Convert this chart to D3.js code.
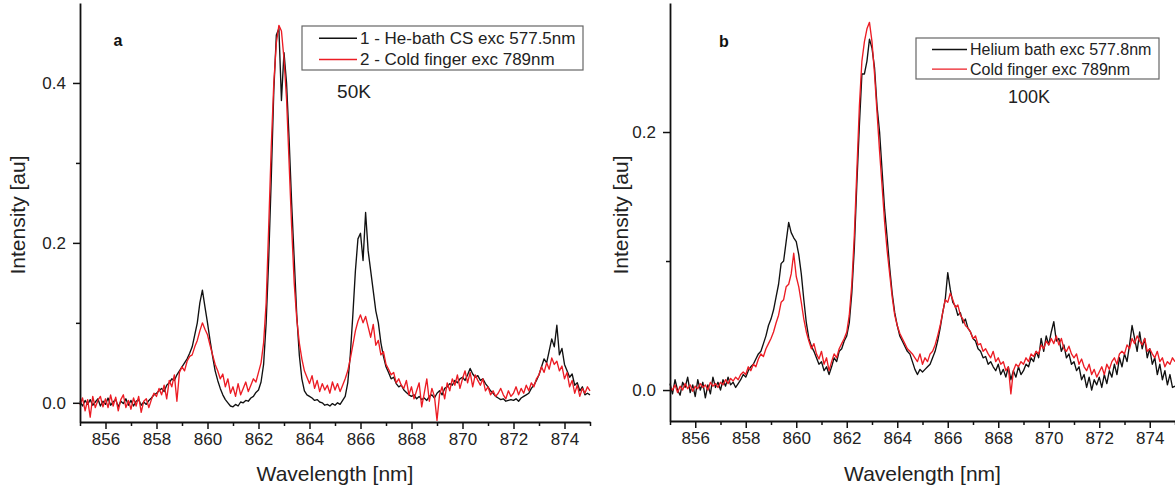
<!DOCTYPE html>
<html>
<head>
<meta charset="utf-8">
<script src="https://cdn.jsdelivr.net/npm/d3@7"></script>
<style>
  html, body { margin: 0; padding: 0; background: #fff; }
  svg { display: block; font-family: "Liberation Sans", Arial, sans-serif; }
</style>
</head>
<body>
<svg id="chart" width="1175" height="491"></svg>
<script>
// ── Data ───────────────────────────────────────────────────────────────────
// Spectra sampled every 0.1 nm from 855.0 to 875.0 nm (201 points each).
const wlStart = 855, wlStep = 0.1;

// Panel a, 50K
const aHeBath = [
  0.002,-0.004,0.003,-0.002,0.004,-0.003,0.001,0.005,-0.004,0.002,
  -0.002,0.006,-0.003,0.001,0.004,-0.005,0.002,-0.001,0.005,-0.003,
  0.003,-0.004,0.002,0.004,-0.003,0.001,-0.002,0.003,0.006,0.010,
  0.012,0.015,0.018,0.014,0.022,0.025,0.030,0.028,0.035,0.040,
  0.045,0.050,0.055,0.062,0.070,0.085,0.100,0.125,0.141,0.120,
  0.100,0.078,0.058,0.040,0.028,0.018,0.010,0.004,0.000,-0.004,
  -0.005,-0.002,-0.004,0.001,0.000,0.003,0.002,0.006,0.008,0.013,
  0.016,0.026,0.048,0.100,0.180,0.280,0.390,0.460,0.468,0.378,
  0.438,0.400,0.330,0.250,0.180,0.110,0.060,0.030,0.015,0.010,
  0.008,0.006,0.003,0.004,0.001,0.000,-0.003,-0.002,-0.004,-0.001,
  -0.003,0.000,-0.002,0.003,0.008,0.025,0.060,0.110,0.165,0.205,
  0.212,0.178,0.238,0.190,0.165,0.140,0.115,0.100,0.075,0.058,
  0.045,0.038,0.030,0.032,0.024,0.020,0.022,0.016,0.013,0.010,
  0.008,0.010,0.005,0.008,0.004,0.006,0.003,0.008,0.010,0.006,
  0.012,0.015,0.010,0.018,0.020,0.024,0.022,0.028,0.025,0.030,
  0.032,0.028,0.035,0.043,0.036,0.032,0.034,0.028,0.030,0.024,
  0.020,0.015,0.012,0.008,0.006,0.004,0.005,0.002,0.003,0.004,
  0.003,0.005,0.002,0.006,0.008,0.010,0.012,0.018,0.022,0.028,
  0.035,0.045,0.055,0.050,0.065,0.080,0.070,0.097,0.060,0.068,
  0.048,0.040,0.032,0.036,0.022,0.025,0.015,0.020,0.010,0.012,
  0.010
];
const aColdFinger = [
  -0.003,0.006,-0.010,0.004,-0.018,0.008,-0.006,0.003,0.008,-0.005,
  0.005,-0.006,0.010,-0.004,0.007,-0.010,0.004,0.010,-0.006,0.003,
  -0.008,0.006,-0.004,0.008,-0.012,0.002,0.005,-0.006,0.004,0.012,
  0.008,0.018,0.010,0.022,0.005,0.028,0.020,0.035,0.002,0.038,
  0.045,0.040,0.052,0.058,0.060,0.070,0.078,0.090,0.100,0.092,
  0.085,0.072,0.060,0.048,0.040,0.030,0.036,0.020,0.030,0.012,
  0.020,0.008,0.024,0.010,0.018,0.026,0.014,0.022,0.030,0.026,
  0.038,0.050,0.075,0.125,0.220,0.320,0.400,0.450,0.472,0.465,
  0.430,0.380,0.300,0.220,0.150,0.105,0.075,0.055,0.040,0.032,
  0.024,0.034,0.018,0.028,0.014,0.024,0.016,0.022,0.012,0.026,
  0.016,0.024,0.014,0.022,0.030,0.040,0.055,0.072,0.090,0.102,
  0.110,0.100,0.108,0.095,0.082,0.098,0.072,0.078,0.060,0.064,
  0.048,0.042,0.035,0.038,0.025,0.030,0.022,0.018,0.028,0.010,
  0.020,0.005,0.015,0.025,-0.005,0.012,0.030,0.002,0.018,0.008,
  -0.022,0.010,0.020,0.005,0.025,0.015,0.030,0.022,0.035,0.018,
  0.030,0.040,0.025,0.038,0.020,0.035,0.028,0.022,0.030,0.015,
  0.020,0.010,0.015,0.008,0.012,0.018,0.010,0.005,0.015,0.008,
  0.012,0.020,0.010,0.018,0.012,0.022,0.015,0.025,0.020,0.030,
  0.035,0.045,0.038,0.050,0.042,0.056,0.048,0.052,0.040,0.046,
  0.030,0.038,0.020,0.028,0.012,0.022,0.008,0.018,0.012,0.020,
  0.015
];

// Panel b, 100K
const bHeBath = [
  0.005,-0.003,0.008,0.000,-0.004,0.006,0.002,0.010,-0.002,0.004,
  -0.005,0.008,0.000,0.006,-0.006,0.004,-0.003,0.010,0.002,0.006,
  0.000,0.008,0.003,0.010,0.004,0.006,0.002,0.005,0.008,0.012,
  0.010,0.015,0.018,0.020,0.024,0.028,0.030,0.036,0.042,0.050,
  0.055,0.062,0.072,0.082,0.098,0.100,0.115,0.130,0.122,0.118,
  0.115,0.105,0.090,0.070,0.052,0.040,0.034,0.030,0.025,0.020,
  0.022,0.015,0.018,0.012,0.018,0.025,0.022,0.030,0.032,0.038,
  0.042,0.052,0.075,0.110,0.160,0.205,0.245,0.245,0.255,0.272,
  0.265,0.250,0.220,0.200,0.170,0.140,0.118,0.095,0.075,0.060,
  0.050,0.042,0.038,0.034,0.030,0.028,0.022,0.016,0.012,0.016,
  0.014,0.016,0.018,0.020,0.025,0.030,0.038,0.048,0.060,0.070,
  0.091,0.078,0.068,0.065,0.058,0.060,0.052,0.055,0.048,0.045,
  0.040,0.038,0.032,0.030,0.025,0.026,0.020,0.022,0.018,0.015,
  0.020,0.012,0.016,0.010,0.018,0.008,0.015,0.010,0.018,0.012,
  0.015,0.020,0.018,0.025,0.022,0.030,0.025,0.040,0.030,0.042,
  0.035,0.045,0.053,0.038,0.040,0.030,0.035,0.025,0.028,0.020,
  0.022,0.015,0.018,0.008,0.012,0.002,0.010,0.000,0.008,0.004,
  0.010,0.002,0.012,0.005,0.015,0.010,0.020,0.012,0.025,0.018,
  0.028,0.022,0.035,0.050,0.040,0.030,0.045,0.032,0.040,0.025,
  0.032,0.020,0.025,0.012,0.020,0.008,0.015,0.004,0.012,0.002,
  0.003
];
const bColdFinger = [
  0.002,0.000,0.004,-0.002,0.003,0.000,0.005,0.001,0.004,-0.001,
  0.003,0.001,0.005,0.002,0.004,0.000,0.006,0.003,0.005,0.002,
  0.006,0.004,0.008,0.005,0.009,0.007,0.010,0.008,0.012,0.014,
  0.012,0.018,0.015,0.020,0.018,0.024,0.028,0.026,0.032,0.036,
  0.040,0.045,0.052,0.058,0.068,0.070,0.080,0.082,0.090,0.106,
  0.088,0.080,0.068,0.055,0.045,0.038,0.032,0.036,0.028,0.024,
  0.030,0.020,0.025,0.015,0.022,0.028,0.025,0.032,0.036,0.040,
  0.045,0.058,0.082,0.120,0.170,0.220,0.255,0.270,0.280,0.285,
  0.270,0.245,0.215,0.185,0.158,0.130,0.108,0.090,0.072,0.058,
  0.050,0.044,0.040,0.036,0.032,0.030,0.028,0.025,0.022,0.028,
  0.020,0.025,0.022,0.028,0.030,0.035,0.042,0.050,0.060,0.070,
  0.068,0.075,0.070,0.064,0.066,0.058,0.055,0.050,0.048,0.045,
  0.040,0.042,0.035,0.036,0.030,0.032,0.028,0.025,0.030,0.022,
  0.025,0.020,0.022,0.015,0.018,-0.003,0.015,0.020,0.018,0.022,
  0.020,0.025,0.022,0.028,0.026,0.030,0.028,0.035,0.032,0.038,
  0.035,0.040,0.036,0.042,0.035,0.040,0.032,0.030,0.034,0.028,
  0.025,0.028,0.020,0.024,0.018,0.015,0.020,0.012,0.016,0.010,
  0.014,0.018,0.012,0.020,0.016,0.022,0.025,0.020,0.028,0.030,
  0.028,0.035,0.032,0.040,0.036,0.042,0.038,0.035,0.040,0.030,
  0.032,0.028,0.025,0.030,0.022,0.025,0.018,0.022,0.020,0.025,
  0.022
];

// Ticks and labels
const xMajorTicks = [856, 858, 860, 862, 864, 866, 868, 870, 872, 874];
const xMinorTicks = [855, 857, 859, 861, 863, 865, 867, 869, 871, 873, 875];
const aYTicks = [0.0, 0.2, 0.4];
const aYMinor = [0.1, 0.3];
const bYTicks = [0.0, 0.2];
const bYMinor = [0.1];
const aLegend = ['1 - He-bath CS exc 577.5nm', '2 - Cold finger exc 789nm'];
const bLegend = ['Helium bath exc 577.8nm', 'Cold finger exc 789nm'];

const BLACK = '#111', RED = '#ec1c24';

// ── Panel layout ───────────────────────────────────────────────────────────
const panels = [
  {
    letter: 'a', letterX: 118, letterY: 46,
    left: 80, right: 590, top: 3, bottom: 422,
    yDomain: [-0.024, 0.5], yTicks: aYTicks, yMinor: aYMinor,
    series: [aHeBath, aColdFinger], legend: aLegend,
    legBox: { x: 302, y: 26, w: 281, h: 44, fs: 17, lx0: 319, lx1: 357 },
    temp: '50K', tempX: 354, tempY: 98, tempFs: 19,
    yTitleX: 18
  },
  {
    letter: 'b', letterX: 724, letterY: 47,
    left: 670, right: 1175, top: 3, bottom: 421,
    yDomain: [-0.024, 0.3], yTicks: bYTicks, yMinor: bYMinor,
    series: [bHeBath, bColdFinger], legend: bLegend,
    legBox: { x: 916, y: 38, w: 243, h: 41, fs: 16, lx0: 932, lx1: 967 },
    temp: '100K', tempX: 1029, tempY: 103, tempFs: 18,
    yTitleX: 621
  }
];

const svg = d3.select('#chart');

function drawPanel(p) {
  const x = d3.scaleLinear().domain([855, 875]).range([p.left, p.right]);
  const y = d3.scaleLinear().domain(p.yDomain).range([p.bottom, p.top]);
  const g = svg.append('g');

  // Spectra: black first, red on top
  const line = d3.line()
    .x((d, i) => x(wlStart + i * wlStep))
    .y(d => y(d));
  [BLACK, RED].forEach((c, k) => {
    g.append('path')
      .datum(p.series[k])
      .attr('fill', 'none')
      .attr('stroke', c)
      .attr('stroke-width', 1.35)
      .attr('stroke-linejoin', 'round')
      .attr('d', line);
  });

  // X axis: major + minor ticks
  const xAxisG = g.append('g').attr('transform', `translate(0,${p.bottom})`);
  xAxisG.call(d3.axisBottom(x).tickValues(xMajorTicks).tickSize(7).tickSizeOuter(0)
    .tickPadding(4).tickFormat(d3.format('d')));
  xAxisG.append('g').call(d3.axisBottom(x).tickValues(xMinorTicks).tickSize(4).tickFormat(''))
    .select('.domain').remove();

  // Y axis
  const yAxisG = g.append('g').attr('transform', `translate(${p.left},0)`);
  yAxisG.call(d3.axisLeft(y).tickValues(p.yTicks).tickSize(7).tickSizeOuter(0)
    .tickPadding(7).tickFormat(d3.format('.1f')));
  yAxisG.append('g').call(d3.axisLeft(y).tickValues(p.yMinor).tickSize(4).tickFormat(''))
    .select('.domain').remove();

  [xAxisG, yAxisG].forEach(a => {
    a.selectAll('.domain').attr('stroke', '#111').attr('stroke-width', 1.8);
    a.selectAll('line').attr('stroke', '#111').attr('stroke-width', 1.5);
    a.selectAll('text').attr('font-size', 17).attr('fill', '#222')
      .attr('font-family', '"Liberation Sans", Arial, sans-serif');
  });

  // Axis titles
  g.append('text')
    .attr('x', (p.left + p.right) / 2).attr('y', 481)
    .attr('text-anchor', 'middle').attr('font-size', 21).attr('fill', '#222')
    .text('Wavelength [nm]');
  g.append('text')
    .attr('transform', `translate(${p.yTitleX + 7},215) rotate(-90)`)
    .attr('text-anchor', 'middle').attr('font-size', 21).attr('fill', '#222')
    .text('Intensity [au]');

  // Panel letter
  g.append('text')
    .attr('x', p.letterX).attr('y', p.letterY)
    .attr('text-anchor', 'middle').attr('font-weight', 'bold')
    .attr('font-size', 16).attr('fill', '#111')
    .text(p.letter);

  // Legend
  const L = p.legBox;
  g.append('rect')
    .attr('x', L.x).attr('y', L.y).attr('width', L.w).attr('height', L.h)
    .attr('fill', '#fff').attr('stroke', '#666').attr('stroke-width', 1.2);
  p.legend.forEach((t, i) => {
    const cy = L.y + L.h * (i === 0 ? 0.28 : 0.76);
    g.append('line')
      .attr('x1', L.lx0).attr('x2', L.lx1).attr('y1', cy).attr('y2', cy)
      .attr('stroke', i === 0 ? BLACK : RED).attr('stroke-width', 1.4);
    g.append('text')
      .attr('x', L.lx1 + 3).attr('y', cy).attr('dy', '0.35em')
      .attr('font-size', L.fs).attr('fill', '#222')
      .text(t);
  });

  // Temperature
  g.append('text')
    .attr('x', p.tempX).attr('y', p.tempY)
    .attr('text-anchor', 'middle').attr('font-size', p.tempFs).attr('fill', '#222')
    .text(p.temp);
}

panels.forEach(drawPanel);
</script>
</body>
</html>
